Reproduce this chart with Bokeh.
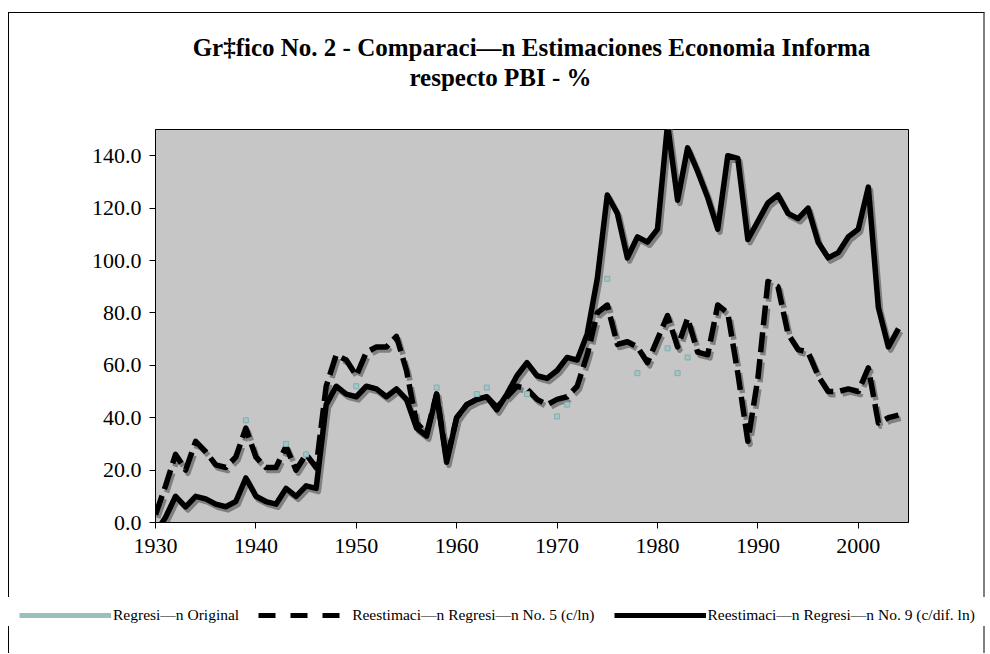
from bokeh.plotting import figure
from bokeh.layouts import column
from bokeh.models import (Range1d, FixedTicker, Legend, LegendItem, Label,
                          ColumnDataSource, Spacer)
from bokeh.transform import dodge
from bokeh.embed import file_html
from bokeh.resources import INLINE

# ---------------- data ----------------
years = list(range(1930, 2005))

reest_no9 = [-4, 2, 10, 6, 10, 9, 7, 6, 8, 17,
             10, 8, 7, 13, 10, 14, 13, 45, 52, 49,
             48, 52, 51, 48, 51, 47, 36, 33, 49, 23,
             40, 45, 47, 48, 43, 49, 56, 61, 56, 55,
             58, 63, 62, 72, 93, 125, 118, 101, 109, 107,
             112, 152, 123, 143, 134, 124, 112, 140, 139, 108,
             115, 122, 125, 118, 116, 120, 107, 101, 103, 109,
             112, 128, 82, 67, 74]

reest_no5 = [3, 14, 26, 20, 31, 27, 22, 21, 25, 36,
             25, 21, 21, 29, 20, 26, 21, 52, 64, 62,
             56, 65, 67, 67, 71, 58, 38, 34, 49, 24,
             40, 45, 47, 48, 44, 48, 52, 51, 47, 45,
             47, 48, 52, 64, 80, 83, 68, 69, 67, 61,
             70, 79, 67, 78, 65, 64, 83, 80, 57, 31,
             55, 92, 90, 72, 66, 65, 56, 50, 50, 51,
             50, 59, 38, 40, 41]

orig_years = [1939, 1943, 1945, 1950, 1958, 1962, 1963, 1967, 1970, 1971,
              1975, 1978, 1981, 1982, 1983]
orig_vals = [39, 30, 26, 52, 51.5, 49, 51.5, 49, 40.5, 45,
             93, 57, 66.5, 57, 63]

x_ticks = [1930, 1940, 1950, 1960, 1970, 1980, 1990, 2000]
y_ticks = [0, 20, 40, 60, 80, 100, 120, 140]
y_tick_labels = ["0.0", "20.0", "40.0", "60.0", "80.0", "100.0", "120.0", "140.0"]

title_lines = ["Gr\u2021fico No. 2 - Comparaci\u2014n Estimaciones Economia Informa",
               "respecto PBI - %"]
series_names = ["Regresi\u2014n Original",
                "Reestimaci\u2014n Regresi\u2014n No. 5 (c/ln)",
                "Reestimaci\u2014n Regresi\u2014n No. 9 (c/dif. ln)"]

# ---------------- layout ----------------
W = 974
TH, MH, LH, BH = 116, 468, 29, 27   # title strip, plot, legend strip, bottom strip
FL, FR, FB = 146, 75, 75            # borders of the plot frame
SERIF = "Liberation Serif"
OX = 9                              # page x of the canvas left edge
NAN = float("nan")
BORDER = "1px solid #000000"
RBORDER = "2px solid #808080"

# ---- title strip ----
tfig = figure(width=W, height=TH, output_backend="svg", toolbar_location=None,
              x_axis_type=None, y_axis_type=None,
              x_range=Range1d(0, 1), y_range=Range1d(0, 1), min_border=0)
tfig.frame_align = False
tfig.outline_line_color = None
tfig.background_fill_color = "white"
tfig.border_fill_color = "white"
title_cx = [531 - OX, 500 - OX]
title_cy = [TH - (47 - 13), TH - (77 - 13)]
for txt, cx, cy in zip(title_lines, title_cx, title_cy):
    tfig.add_layout(Label(x=cx, y=cy, x_units="screen", y_units="screen", text=txt,
                          text_font=SERIF, text_font_size="25px",
                          text_font_style="bold", text_align="center",
                          text_baseline="middle", text_color="black"))

# ---- main plot ----
p = figure(width=W, height=MH, output_backend="svg", toolbar_location=None,
           x_range=Range1d(1930, 2005), y_range=Range1d(0, 150),
           min_border_left=FL, min_border_right=FR,
           min_border_top=0, min_border_bottom=FB)
p.frame_align = False
p.background_fill_color = "#c6c6c6"
p.border_fill_color = "white"
p.outline_line_color = "black"
p.outline_line_width = 1
p.grid.visible = False

for ax in (p.xaxis[0], p.yaxis[0]):
    ax.axis_line_color = "black"
    ax.major_tick_line_color = "black"
    ax.major_tick_out = 6
    ax.major_tick_in = 0
    ax.minor_tick_line_color = None
    ax.major_label_text_font = SERIF
    ax.major_label_text_font_size = "22px"
    ax.major_label_text_color = "black"

p.xaxis.ticker = FixedTicker(ticks=x_ticks)
p.xaxis.major_label_standoff = 10
p.yaxis.ticker = FixedTicker(ticks=y_ticks)
p.yaxis.major_label_overrides = {t: l for t, l in zip(y_ticks, y_tick_labels)}
p.yaxis.major_label_standoff = 8

src = ColumnDataSource(dict(year=years, no9=reest_no9, no5=reest_no5))
osrc = ColumnDataSource(dict(year=orig_years, val=orig_vals))

LW = 5.5
SH = "#808080"
p.line(x=dodge("year", 0.22, range=p.x_range), y=dodge("no5", -1.2, range=p.y_range),
       source=src, line_color=SH, line_width=LW, line_dash="20 7", line_join="round")
p.line(x=dodge("year", 0.22, range=p.x_range), y=dodge("no9", -1.2, range=p.y_range),
       source=src, line_color=SH, line_width=LW, line_join="round")
p.line(x="year", y="no5", source=src, line_color="black", line_width=LW,
       line_dash="20 7", line_join="round")
p.line(x="year", y="no9", source=src, line_color="black", line_width=LW,
       line_join="round")
p.scatter(x="year", y="val", source=osrc, marker="square", size=5,
          fill_color="#a3c6c6", line_color="#86acac", line_width=1)

# ---- legend strip (sits over the gap in the outer border) ----
lfig = figure(width=W + 1, height=LH, output_backend="svg", toolbar_location=None,
              x_axis_type=None, y_axis_type=None,
              x_range=Range1d(0, 1), y_range=Range1d(0, 1), min_border=0)
lfig.frame_align = False
lfig.outline_line_color = None
lfig.background_fill_color = "white"
lfig.border_fill_color = "white"
g0 = lfig.line(x=[NAN], y=[NAN], line_color="#9dbebe", line_width=5)
g5 = lfig.line(x=[NAN], y=[NAN], line_color="black", line_width=5, line_dash="17 15")
g9 = lfig.line(x=[NAN], y=[NAN], line_color="black", line_width=5)
legend = Legend(items=[LegendItem(label=series_names[0], renderers=[g0]),
                       LegendItem(label=series_names[1], renderers=[g5]),
                       LegendItem(label=series_names[2], renderers=[g9])],
                orientation="horizontal", location=(11, 1),
                glyph_width=92, glyph_height=20, label_standoff=2, spacing=19,
                padding=4, margin=0, border_line_color=None,
                background_fill_color="white", background_fill_alpha=1,
                label_text_font=SERIF, label_text_font_size="15.5px",
                label_text_color="black")
lfig.add_layout(legend, "center")

upper = column(tfig, p, spacing=0)
upper.styles = {"border-top": BORDER, "border-left": BORDER, "border-right": RBORDER}
lower = column(Spacer(width=W, height=BH), spacing=0)
lower.styles = {"border-left": BORDER, "border-right": RBORDER}

layout = column(upper, lfig, lower, spacing=0)
layout.styles = {"margin-left": "8px", "margin-top": "12px"}

open("out.html", "w").write(file_html(layout, INLINE))
